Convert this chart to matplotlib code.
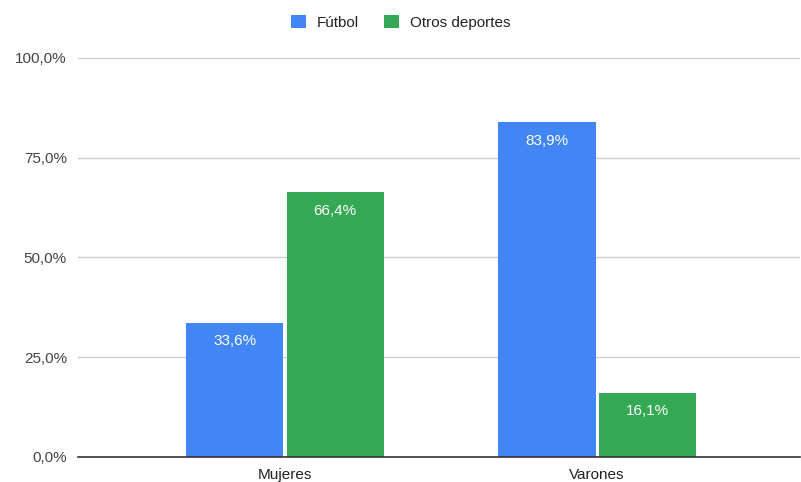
import numpy as np
import matplotlib.pyplot as plt
from matplotlib.ticker import FuncFormatter

# DATA
categories = ['Mujeres', 'Varones']
futbol = [33.6, 83.9]
otros = [66.4, 16.1]
series_names = ['Fútbol', 'Otros deportes']

plt.rcParams['font.family'] = ['Liberation Sans', 'DejaVu Sans']

blue = '#4285F4'
green = '#34A853'

fig = plt.figure(figsize=(8.01, 4.82), dpi=100)
ax = fig.add_axes([0.0974, 0.0519, 0.9014, 0.8278])

x = np.arange(len(categories))
w = 0.312
gap = 0.005
b1 = ax.bar(x - w / 2 - gap, futbol, w, color=blue, label=series_names[0], zorder=3)
b2 = ax.bar(x + w / 2 + gap, otros, w, color=green, label=series_names[1], zorder=3)

for bars in (b1, b2):
    for rect in bars:
        h = rect.get_height()
        ax.text(rect.get_x() + rect.get_width() / 2, h - 2.9,
                ('%.1f%%' % h).replace('.', ','),
                ha='center', va='top', color='white', fontsize=11, zorder=4)

ax.set_xlim(-0.663, 1.65)
ax.set_ylim(0, 100)
ax.set_yticks([0, 25, 50, 75, 100])
ax.yaxis.set_major_formatter(FuncFormatter(lambda v, p: ('%.1f%%' % v).replace('.', ',')))
ax.set_xticks(x)
ax.set_xticklabels(categories)

ax.grid(axis='y', color='#cccccc', linewidth=1, zorder=0)
ax.tick_params(axis='y', length=0, pad=8, labelsize=11, labelcolor='#444444')
ax.tick_params(axis='x', length=0, pad=8, labelsize=11, labelcolor='#222222')
for s in ['top', 'right', 'left']:
    ax.spines[s].set_visible(False)
ax.spines['bottom'].set_color('#333333')
ax.spines['bottom'].set_linewidth(1.2)
ax.spines['bottom'].set_zorder(5)

fig.legend(loc='upper center', bbox_to_anchor=(0.5, 0.998), ncol=2, frameon=False,
           fontsize=11, handlelength=1.0, handleheight=1.0, columnspacing=1.6,
           handletextpad=0.7, labelcolor='#222222')

fig.savefig('out.png', dpi=100)
